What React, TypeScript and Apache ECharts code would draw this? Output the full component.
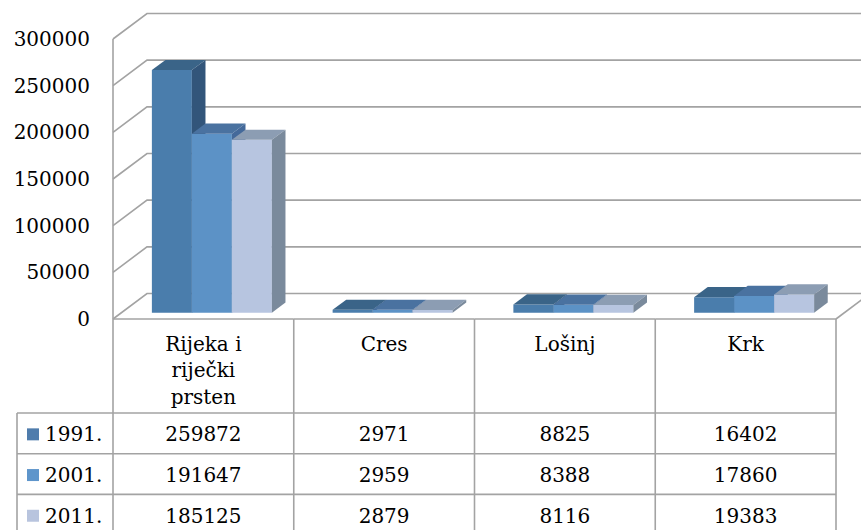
import React, { useEffect, useRef } from 'react';
import * as echarts from 'echarts';

const categories = ['Rijeka i riječki prsten', 'Cres', 'Lošinj', 'Krk'];
const categoryLines = [['Rijeka i', 'riječki', 'prsten'], ['Cres'], ['Lošinj'], ['Krk']];
const years = ['1991.', '2001.', '2011.'];
const values1991 = [259872, 2971, 8825, 16402];
const values2001 = [191647, 2959, 8388, 17860];
const values2011 = [185125, 2879, 8116, 19383];
const seriesValues = [values1991, values2001, values2011];
const yTicks = [0, 50000, 100000, 150000, 200000, 250000, 300000];

const FONT_FAMILY = '"DejaVu Serif", serif';
const FONT = '20px ' + FONT_FAMILY;
const GRID_COLOR = '#a3a3a3';
const DX = 34;
const DY = -25.5;
const F1 = 0.25;
const F2 = 0.65;
const BAR_RATIO = 0.2213;
const HEADER_H = 94;
const ROW_H = 40.7;
const LEGEND_W = 96;
const HEADER_LINE_Y = [25, 51, 78];

const faceColors = [
  { front: '#4a7dac', top: '#3a6488', side: '#32557a', legend: '#4f7cac' },
  { front: '#5c92c6', top: '#4a72a0', side: '#44699a', legend: '#5e95cb' },
  { front: '#b7c5e0', top: '#8c9db3', side: '#7a8a9c', legend: '#b8c4de' },
];

function txt(text: string, x: number, y: number, align: string) {
  return {
    type: 'text',
    x,
    y,
    style: {
      text,
      font: FONT,
      fill: '#000000',
      align,
      verticalAlign: 'middle',
      textAlign: align,
      textVerticalAlign: 'middle',
    },
  };
}

function ln(x1: number, y1: number, x2: number, y2: number) {
  return {
    type: 'line',
    shape: { x1, y1, x2, y2 },
    style: { stroke: GRID_COLOR, lineWidth: 1.6 },
  };
}

export default function App() {
  const ref = useRef<HTMLDivElement>(null);
  useEffect(() => {
    if (!ref.current) return;
    const chart = echarts.init(ref.current, null, { renderer: 'svg' });

    const wallSeries = {
      type: 'custom',
      clip: false,
      z: 1,
      data: [[0, 0]],
      renderItem: (params: any, api: any) => {
        const cs = params.coordSys;
        const left = cs.x;
        const right = cs.x + cs.width;
        const children: any[] = [];
        const y0 = api.coord([0, 0])[1];
        const yMax = api.coord([0, yTicks[yTicks.length - 1]])[1];
        yTicks.forEach((t) => {
          const y = api.coord([0, t])[1];
          children.push({
            type: 'polyline',
            shape: { points: [[left, y], [left + DX, y + DY], [right + DX, y + DY]] },
            style: { stroke: GRID_COLOR, lineWidth: 1.6, fill: 'none' },
          });
        });
        children.push(ln(left, yMax, left, y0));
        children.push(ln(right, y0, right + DX, y0 + DY));
        return { type: 'group', children };
      },
    };

    const barSeries = seriesValues.map((vals, s) => ({
      type: 'custom',
      name: years[s],
      clip: false,
      z: 2,
      data: vals.map((v, i) => [i, v]),
      encode: { x: 0, y: 1 },
      renderItem: (params: any, api: any) => {
        const i = api.value(0);
        const v = api.value(1);
        const band = api.size([1, 0])[0];
        const p0 = api.coord([i, 0]);
        const yTop = api.coord([i, v])[1];
        const barW = band * BAR_RATIO;
        const x0 = p0[0] - 1.5 * barW + s * barW + F1 * DX;
        const base = p0[1] + F1 * DY;
        const top = yTop + F1 * DY;
        const bdx = (F2 - F1) * DX;
        const bdy = (F2 - F1) * DY;
        const c = faceColors[s];
        return {
          type: 'group',
          children: [
            { type: 'rect', shape: { x: x0, y: top, width: barW, height: base - top }, style: { fill: c.front } },
            {
              type: 'polygon',
              shape: { points: [[x0, top], [x0 + barW, top], [x0 + barW + bdx, top + bdy], [x0 + bdx, top + bdy]] },
              style: { fill: c.top },
            },
            {
              type: 'polygon',
              shape: { points: [[x0 + barW, top], [x0 + barW + bdx, top + bdy], [x0 + barW + bdx, base + bdy], [x0 + barW, base]] },
              style: { fill: c.side },
            },
          ],
        };
      },
    }));

    const tableSeries = {
      type: 'custom',
      clip: false,
      z: 3,
      data: categories.map((_, i) => [i, 0]),
      encode: { x: 0, y: 1 },
      renderItem: (params: any, api: any) => {
        const i = api.value(0);
        const band = api.size([1, 0])[0];
        const p0 = api.coord([i, 0]);
        const cx = p0[0];
        const y0 = p0[1];
        const colL = cx - band / 2;
        const colR = cx + band / 2;
        const bottom = 560;
        const hb = y0 + HEADER_H;
        const children: any[] = [];
        children.push(ln(colL, y0, colR, y0));
        children.push(ln(colL, y0, colL, bottom));
        if (i === categories.length - 1) children.push(ln(colR, y0, colR, bottom));
        for (let k = 0; k < years.length; k++) {
          children.push(ln(colL, hb + k * ROW_H, colR, hb + k * ROW_H));
        }
        categoryLines[i].forEach((t, k) => {
          children.push(txt(t, cx, y0 + HEADER_LINE_Y[k], 'center'));
        });
        seriesValues.forEach((vals, k) => {
          children.push(txt(String(vals[i]), cx, hb + k * ROW_H + ROW_H / 2 + 1, 'center'));
        });
        if (i === 0) {
          const legL = colL - LEGEND_W;
          children.push(ln(legL, hb, legL, bottom));
          years.forEach((y, k) => {
            const ry = hb + k * ROW_H;
            children.push(ln(legL, ry, colL, ry));
            children.push({
              type: 'rect',
              shape: { x: legL + 10, y: ry + ROW_H / 2 - 5, width: 12, height: 12 },
              style: { fill: faceColors[k].legend },
            });
            children.push(txt(y, legL + 28, ry + ROW_H / 2 + 1, 'left'));
          });
        }
        return { type: 'group', children };
      },
    };

    chart.setOption({
      animation: false,
      backgroundColor: '#ffffff',
      grid: { left: 113, right: 25, top: 39, bottom: 211 },
      xAxis: {
        type: 'category',
        data: categories,
        axisLabel: { show: false },
        axisLine: { show: false },
        axisTick: { show: false },
        splitLine: { show: false },
      },
      yAxis: {
        type: 'value',
        min: 0,
        max: 300000,
        interval: 50000,
        axisLine: { show: false },
        axisTick: { show: false },
        splitLine: { show: false },
        axisLabel: {
          margin: 23,
          color: '#000000',
          fontFamily: FONT_FAMILY,
          fontSize: 20,
          padding: [6, 0, 0, 0],
          formatter: (v: number) => String(v),
        },
      },
      series: [wallSeries, ...barSeries, tableSeries],
    });
    return () => chart.dispose();
  }, []);
  return (
    <div
      ref={ref}
      style={{ position: 'absolute', left: 0, top: 0, width: 861, height: 530, background: '#fff' }}
    />
  );
}
